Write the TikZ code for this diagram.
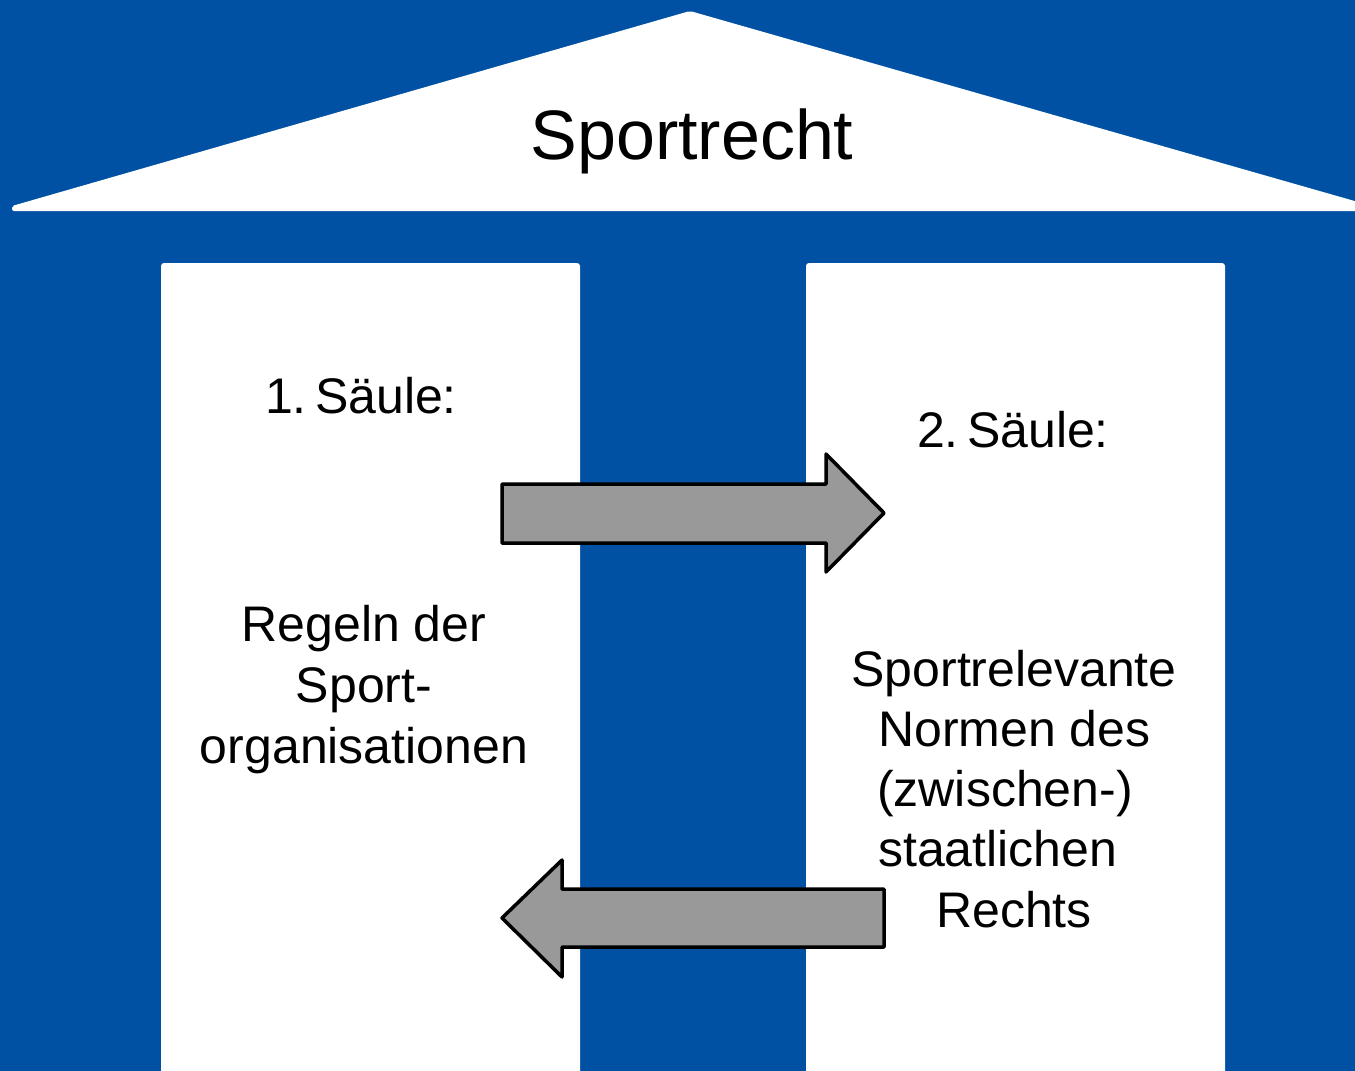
\documentclass[tikz,border=0pt]{standalone}
\usepackage{fontspec}
\setmainfont{Liberation Sans}
\definecolor{bgblue}{RGB}{0,81,163}
\definecolor{arrowgrey}{RGB}{153,153,153}
\tikzset{
  bodytext/.style={font=\fontsize{50}{60}\selectfont, inner sep=0pt, text=black},
  titletext/.style={font=\fontsize{70}{84}\selectfont, inner sep=0pt, text=black},
  pillar/.style={fill=white, rounded corners=3pt},
  fatarrow/.style={fill=arrowgrey, draw=black, line width=3.5pt, line join=round}
}
\begin{document}
\begin{tikzpicture}[x=1pt,y=-1pt]
\useasboundingbox (0,0) rectangle (1355,1071);
\clip (0,0) rectangle (1355,1071);
\fill[bgblue] (0,0) rectangle (1355,1071);
% roof
\fill[white, rounded corners=2pt] (690,11) -- (1372,206) -- (1372,211) -- (12,211) -- (12,206) -- cycle;
% pillars
\fill[pillar] (161,263) rectangle (580,1090);
\fill[pillar] (806,263) rectangle (1225,1090);
% arrows
\filldraw[fatarrow] (502,484) -- (826,484) -- (826,454) -- (884,513) -- (826,572) -- (826,543) -- (502,543) -- cycle;
\filldraw[fatarrow] (884,889) -- (562,889) -- (562,860) -- (502,918) -- (562,977) -- (562,947) -- (884,947) -- cycle;
% texts
\node[titletext, anchor=base] (title) at (692,159) {Sportrecht};
\node[bodytext, anchor=base] (s1) at (361,413) {1.\,Säule:};
\node[bodytext, anchor=base] (s2) at (1013,447) {2.\,Säule:};
\node[bodytext, anchor=base] (l1) at (364,641) {Regeln der};
\node[bodytext, anchor=base] (l2) at (364,702) {Sport-};
\node[bodytext, anchor=base] (l3) at (364,763) {organisationen};
\node[bodytext, anchor=base] (r1) at (1014,686) {Sportrelevante};
\node[bodytext, anchor=base west] (r2) at (878,746) {Normen des};
\node[bodytext, anchor=base west] (r3) at (877,806) {(zwischen-)};
\node[bodytext, anchor=base west] (r4) at (878,866) {staatlichen};
\node[bodytext, anchor=base] (r5) at (1014,927) {Rechts};
\end{tikzpicture}
\end{document}
